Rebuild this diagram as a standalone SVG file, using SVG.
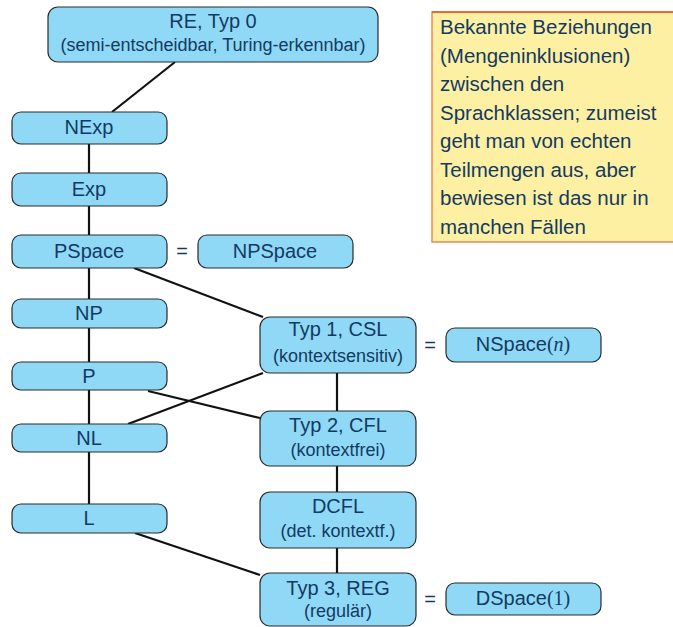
<svg xmlns="http://www.w3.org/2000/svg" width="673" height="627" viewBox="0 0 673 627">
<style>
.box{fill:#8fd9f6;stroke:#2a2a2a;stroke-width:1.2}
.t{font-family:"Liberation Sans",Arial,sans-serif;fill:#143a63;text-anchor:middle}
.l{font-size:20px}
.s{font-size:18px}
.m{font-family:"Liberation Serif","Times New Roman",serif}
.c{stroke:#111;stroke-width:2.2;fill:none}
.note{font-family:"Liberation Sans",Arial,sans-serif;font-size:20.5px;fill:#143a63}
</style>
<rect width="673" height="627" fill="#fff"/>
<g id="connectors">
<line class="c" x1="175" y1="62" x2="112" y2="112"/>
<line class="c" x1="89" y1="144" x2="89" y2="173"/>
<line class="c" x1="89" y1="206" x2="89" y2="235"/>
<line class="c" x1="89" y1="268" x2="89" y2="299"/>
<line class="c" x1="89" y1="328" x2="89" y2="362"/>
<line class="c" x1="89" y1="390" x2="89" y2="424"/>
<line class="c" x1="89" y1="452" x2="89" y2="504"/>
<line class="c" x1="134" y1="268" x2="263" y2="317"/>
<line class="c" x1="263" y1="373" x2="128" y2="424"/>
<line class="c" x1="148" y1="391" x2="260" y2="418"/>
<line class="c" x1="337" y1="373" x2="337" y2="411"/>
<line class="c" x1="337" y1="466" x2="337" y2="492"/>
<line class="c" x1="337" y1="548" x2="337" y2="573"/>
<line class="c" x1="135" y1="533" x2="260" y2="575"/>
</g>
<g id="note">
<rect x="432" y="12" width="250" height="230" fill="#fdf0a2" stroke="#e58a52" stroke-width="1.5"/>
<line x1="432" y1="12" x2="673" y2="12" stroke="#e0582a" stroke-width="1.5"/>
<text class="note" x="440"><tspan x="440" y="34">Bekannte Beziehungen</tspan><tspan x="440" y="62.5">(Mengeninklusionen)</tspan><tspan x="440" y="91">zwischen den</tspan><tspan x="440" y="119.5">Sprachklassen; zumeist</tspan><tspan x="440" y="148">geht man von echten</tspan><tspan x="440" y="176.5">Teilmengen aus, aber</tspan><tspan x="440" y="205">bewiesen ist das nur in</tspan><tspan x="440" y="233.5">manchen Fällen</tspan></text>
</g>
<g id="re">
<rect class="box" x="48" y="7" width="330" height="55" rx="10"/>
<text class="t l" x="213" y="28">RE, Typ 0</text>
<text class="t s" x="213" y="51">(semi-entscheidbar, Turing-erkennbar)</text>
</g>
<g id="nexp">
<rect class="box" x="12" y="112" width="155" height="32" rx="9"/>
<text class="t l" x="89" y="134">NExp</text>
</g>
<g id="exp">
<rect class="box" x="12" y="173" width="155" height="33" rx="9"/>
<text class="t l" x="89" y="196">Exp</text>
</g>
<g id="pspace">
<rect class="box" x="12" y="235" width="155" height="33" rx="9"/>
<text class="t l" x="89" y="258">PSpace</text>
</g>
<g id="eq1"><text class="t l" x="182" y="258">=</text></g>
<g id="npspace">
<rect class="box" x="198" y="235" width="155" height="33" rx="9"/>
<text class="t l" x="275" y="258">NPSpace</text>
</g>
<g id="np">
<rect class="box" x="12" y="299" width="155" height="29" rx="9"/>
<text class="t l" x="89" y="320">NP</text>
</g>
<g id="p">
<rect class="box" x="12" y="362" width="155" height="28" rx="9"/>
<text class="t l" x="89" y="383">P</text>
</g>
<g id="nl">
<rect class="box" x="12" y="424" width="155" height="28" rx="9"/>
<text class="t l" x="89" y="445">NL</text>
</g>
<g id="l">
<rect class="box" x="12" y="504" width="155" height="29" rx="9"/>
<text class="t l" x="89" y="525">L</text>
</g>
<g id="typ1">
<rect class="box" x="260" y="317" width="156" height="56" rx="10"/>
<text class="t l" x="338" y="336">Typ 1, CSL</text>
<text class="t s" x="338" y="362">(kontextsensitiv)</text>
</g>
<g id="eq2"><text class="t l" x="430" y="352">=</text></g>
<g id="nspace">
<rect class="box" x="446" y="328" width="155" height="34" rx="9"/>
<text class="t l" x="523" y="351">NSpace<tspan class="m">(<tspan font-style="italic">n</tspan>)</tspan></text>
</g>
<g id="typ2">
<rect class="box" x="260" y="411" width="156" height="55" rx="10"/>
<text class="t l" x="338" y="432">Typ 2, CFL</text>
<text class="t s" x="338" y="456">(kontextfrei)</text>
</g>
<g id="dcfl">
<rect class="box" x="260" y="492" width="156" height="56" rx="10"/>
<text class="t l" x="338" y="513">DCFL</text>
<text class="t s" x="338" y="537">(det. kontextf.)</text>
</g>
<g id="typ3">
<rect class="box" x="260" y="573" width="156" height="53" rx="10"/>
<text class="t l" x="338" y="595">Typ 3, REG</text>
<text class="t s" x="338" y="617">(regulär)</text>
</g>
<g id="eq3"><text class="t l" x="430" y="606">=</text></g>
<g id="dspace">
<rect class="box" x="446" y="583" width="155" height="32" rx="9"/>
<text class="t l" x="523" y="605">DSpace<tspan class="m">(1)</tspan></text>
</g>
</svg>
